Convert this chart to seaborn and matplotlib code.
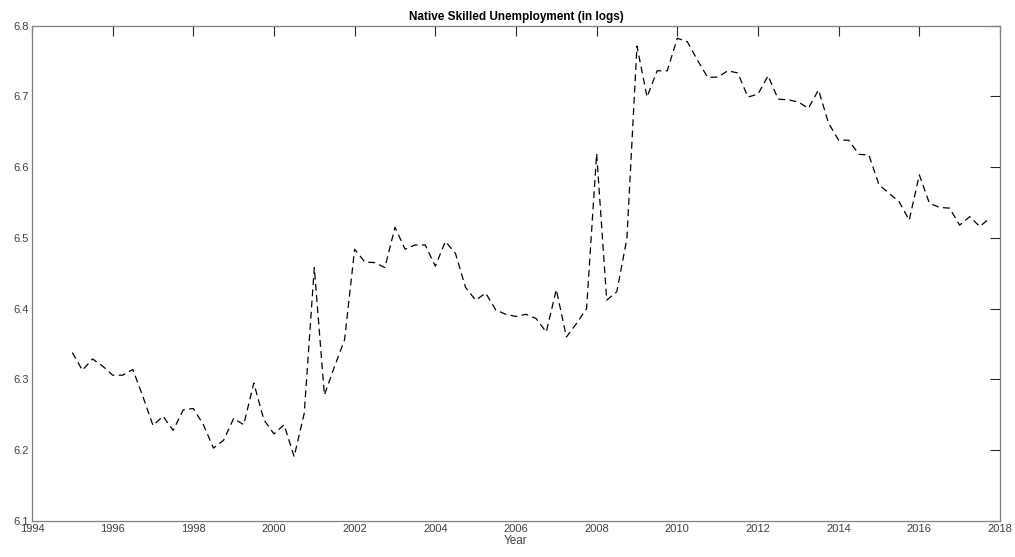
import matplotlib
matplotlib.use("Agg")
import matplotlib.pyplot as plt
import seaborn as sns
import pandas as pd

# --- data: quarterly log unemployment of native skilled workers, 1995Q1-2017Q4 ---
first_year = 1995
log_unemp = [
    6.338, 6.313, 6.329, 6.319,   # 1995
    6.306, 6.306, 6.314, 6.276,   # 1996
    6.235, 6.248, 6.228, 6.257,   # 1997
    6.259, 6.236, 6.203, 6.214,   # 1998
    6.245, 6.236, 6.295, 6.243,   # 1999
    6.223, 6.236, 6.191, 6.252,   # 2000
    6.458, 6.278, 6.318, 6.356,   # 2001
    6.484, 6.466, 6.465, 6.458,   # 2002
    6.515, 6.484, 6.490, 6.490,   # 2003
    6.460, 6.495, 6.478, 6.430,   # 2004
    6.412, 6.422, 6.398, 6.392,   # 2005
    6.389, 6.392, 6.386, 6.367,   # 2006
    6.427, 6.360, 6.379, 6.400,   # 2007
    6.619, 6.412, 6.424, 6.499,   # 2008
    6.771, 6.699, 6.736, 6.736,   # 2009
    6.782, 6.777, 6.751, 6.727,   # 2010
    6.727, 6.736, 6.733, 6.699,   # 2011
    6.703, 6.729, 6.696, 6.695,   # 2012
    6.692, 6.683, 6.709, 6.662,   # 2013
    6.638, 6.638, 6.618, 6.617,   # 2014
    6.575, 6.563, 6.551, 6.525,   # 2015
    6.589, 6.549, 6.543, 6.542,   # 2016
    6.518, 6.530, 6.516, 6.528,   # 2017
]
year = [first_year + i / 4 for i in range(len(log_unemp))]
x_ticks = list(range(1994, 2019, 2))
y_ticks = [6.1, 6.2, 6.3, 6.4, 6.5, 6.6, 6.7, 6.8]

df = pd.DataFrame({"Year": year, "log_unemp": log_unemp})

# --- style ---
sns.set_style("white")
plt.rcParams["font.family"] = ["Liberation Sans", "DejaVu Sans"]

fig = plt.figure(figsize=(10.15, 5.57), dpi=100)
ax = fig.add_axes([0.0315, 0.0646, 0.9537, 0.8896])

sns.lineplot(data=df, x="Year", y="log_unemp", ax=ax, color="black",
             linewidth=0.9)
ax.lines[0].set_dashes([5.5, 3.5])

ax.set_xlim(1994, 2018)
ax.set_ylim(6.1, 6.8)
ax.set_xticks(x_ticks)
ax.set_yticks(y_ticks)
ax.set_yticklabels([f"{v:.1f}" for v in y_ticks])

for sp in ax.spines.values():
    sp.set_color("#808080")
    sp.set_linewidth(0.9)

ax.tick_params(direction="in", top=True, right=True, length=7.5, width=0.8,
               color="#262626", labelsize=8, labelcolor="#404040", pad=2)

ax.set_xlabel("Year", fontsize=8.5, color="#404040", labelpad=1)
ax.set_ylabel("")
ax.set_title("Native Skilled Unemployment (in logs)", fontsize=8.5,
             fontweight="bold", color="black", pad=4)

fig.savefig("out.png", dpi=100)
